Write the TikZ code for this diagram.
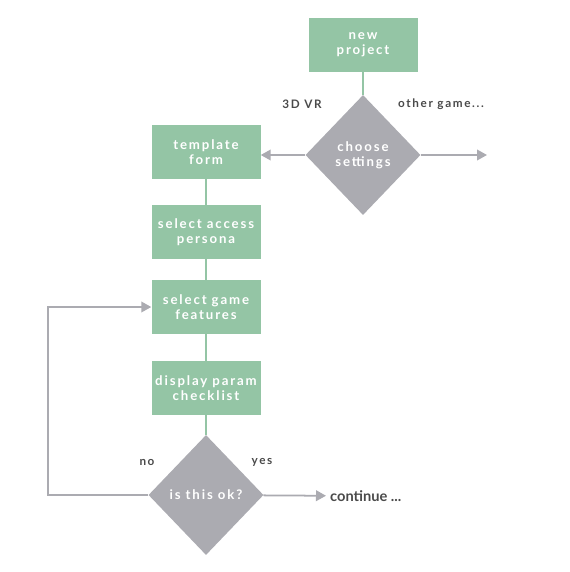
\documentclass[tikz,border=0pt]{standalone}
\usepackage{fontspec}
\setmainfont{Lato}
\newfontfamily\spacedfont[LetterSpace=14, BoldFont={Lato Bold}]{Lato}
\usetikzlibrary{shapes.geometric, arrows.meta}

\definecolor{stepgreen}{HTML}{94C5A5}
\definecolor{choicegray}{HTML}{ABABB1}
\definecolor{labelgray}{HTML}{4A4A4A}

\tikzset{
  stepbox/.style={fill=stepgreen, text=white, minimum width=3.27cm, minimum height=1.62cm,
    inner sep=0pt, align=center, font=\spacedfont\bfseries\fontsize{11.3}{13}\selectfont},
  choice/.style={diamond, fill=choicegray, text=white, minimum width=3.45cm, minimum height=3.6cm,
    inner sep=0pt, align=center, font=\spacedfont\bfseries\fontsize{11.3}{13}\selectfont},
  link/.style={stepgreen, line width=1.5pt},
  flow/.style={choicegray, line width=1.5pt, -{Triangle[length=3mm,width=3.2mm]}},
  tag/.style={text=labelgray, font=\spacedfont\bfseries\fontsize{10}{12}\selectfont}
}

\begin{document}
\begin{tikzpicture}[x=0.03cm, y=-0.03cm]
  \useasboundingbox (0,0) rectangle (569,572);

  % project start and first choice
  \node[stepbox] (newproj) at (363,45) {new\\project};
  \node[choice] (settings) at (363,155) {choose\\settings};
  \draw[link] (newproj) -- (settings);
  \node[tag] (vr) at (302,104) {3D VR};
  \node[tag] (other) at (441,104) {other game...};
  \coordinate (otherend) at (487,155);

  % steps of the template
  \node[stepbox] (template) at (206,152) {template\\form};
  \node[stepbox] (persona) at (206,232) {select access\\persona};
  \node[stepbox] (features) at (206,307) {select game\\features};
  \node[stepbox] (checklist) at (206,388) {display param\\checklist};
  \draw[flow] (settings.west) -- (settings.west -| template.east);
  \draw[flow] (settings.east) -- (otherend);
  \draw[link] (template) -- (persona);
  \draw[link] (persona) -- (features);
  \draw[link] (features) -- (checklist);

  % check and loop back
  \node[choice] (check) at (206,495) {is this ok?};
  \draw[link] (checklist) -- (check);
  \node[tag] (no) at (147,462) {no};
  \node[tag] (yes) at (262,462) {yes};
  \node[text=labelgray, font=\bfseries\fontsize{12.5}{14}\selectfont, anchor=west] (cont) at (326,496) {continue ...};
  \draw[flow] (check) -- (cont);
  \draw[flow] (check.west) -- (48,495) |- (features.west);
\end{tikzpicture}
\end{document}
